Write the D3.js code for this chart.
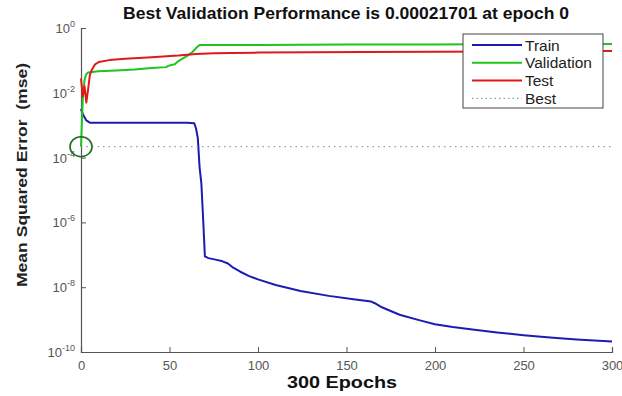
<!DOCTYPE html>
<html>
<head>
<meta charset="utf-8">
<script src="https://cdn.jsdelivr.net/npm/d3@7"></script>
<style>
  body { margin: 0; background: #fff; }
  svg { font-family: "Liberation Sans", Arial, sans-serif; }
</style>
</head>
<body>
<svg id="rootSVG" width="622" height="396"></svg>
<script>
// values (mse per epoch)
const trainEpochs = [0, 1, 3, 5, 20, 40, 60, 64, 65, 66, 67, 68, 69, 70, 72, 76, 80, 83, 86, 90, 95, 100, 110, 124, 140, 155, 164, 166, 170, 180, 192, 200, 210, 220, 235, 250, 265, 280, 300];
const trainMse = [3.2e-3, 2.2e-3, 1.4e-3, 1.2e-3, 1.2e-3, 1.2e-3, 1.2e-3, 1.15e-3, 7.9e-4, 4.0e-4, 5.0e-5, 1.6e-5, 1.3e-6, 8.9e-8, 7.9e-8, 7.1e-8, 6.3e-8, 5.4e-8, 4.0e-8, 3.0e-8, 2.2e-8, 1.74e-8, 1.17e-8, 7.6e-9, 5.4e-9, 4.2e-9, 3.6e-9, 3.2e-9, 2.4e-9, 1.41e-9, 9.3e-10, 7.2e-10, 5.9e-10, 5.0e-10, 4.0e-10, 3.3e-10, 2.8e-10, 2.45e-10, 2.1e-10];

const valEpochs = [0, 1, 2, 3, 4, 6, 10, 20, 30, 40, 48, 50, 53, 55, 60, 63, 65, 67, 70, 100, 150, 200, 250, 300];
const valMse = [2.17e-4, 6.3e-3, 2.5e-2, 3.8e-2, 4.2e-2, 4.4e-2, 4.6e-2, 4.9e-2, 5.2e-2, 5.8e-2, 6.2e-2, 7.0e-2, 7.6e-2, 9.5e-2, 0.138, 0.182, 0.24, 0.30, 0.30, 0.30, 0.31, 0.31, 0.32, 0.32];

const testEpochs = [0, 1, 2, 3, 4, 5, 6, 8, 10, 16, 25, 40, 55, 65, 75, 85, 100, 130, 160, 200, 250, 300];
const testMse = [2.8e-2, 7.9e-3, 1.6e-2, 5.0e-3, 1.26e-2, 3.5e-2, 5.0e-2, 7.6e-2, 8.9e-2, 0.102, 0.112, 0.126, 0.141, 0.158, 0.166, 0.17, 0.174, 0.178, 0.182, 0.186, 0.19, 0.194];

const bestEpoch = 0;
const bestMse = 0.00021701;

const xTicks = [0, 50, 100, 150, 200, 250, 300];
const yExponents = [0, -2, -4, -6, -8, -10];

const legendNames = ["Train", "Validation", "Test", "Best"];
const legendColors = ["#1c1cb4", "#1fc41f", "#e01818", "#7aa8b0"];

const svg = d3.select("#rootSVG");

const x = d3.scaleLinear().domain([0, 300]).range([81, 612]);
const y = d3.scaleLog().domain([1e-10, 1]).range([352, 28]);

// axes (box off: only left and bottom)
const xAxis = svg.append("g").attr("transform", `translate(0,${y(1e-10)})`)
  .call(d3.axisBottom(x).tickValues(xTicks).tickSize(-5).tickPadding(9).tickFormat(d3.format("d")));
const yAxis = svg.append("g").attr("transform", `translate(${x(0)},0)`)
  .call(d3.axisLeft(y).tickValues(yExponents.map(e => Math.pow(10, e))).tickSize(-5).tickFormat(""));

[xAxis, yAxis].forEach(g => {
  g.select(".domain").attr("stroke", "#555").attr("stroke-width", 1.2);
  g.selectAll(".tick line").attr("stroke", "#555");
});
xAxis.selectAll(".tick text").attr("font-size", 13).attr("fill", "#555")
  .attr("font-family", "Liberation Sans, Arial, sans-serif");

// y tick labels as 10 with superscript exponent
const yLab = svg.append("g");
yExponents.forEach(e => {
  const t = yLab.append("text")
    .attr("x", 75).attr("y", y(Math.pow(10, e)) + 5)
    .attr("text-anchor", "end").attr("fill", "#555").attr("font-size", 13);
  t.append("tspan").text("10");
  t.append("tspan").attr("dy", -6).attr("font-size", 9).text(String(e));
});

// series
const line = d3.line().x(d => x(d[0])).y(d => y(d[1]));
const series = [
  {ep: trainEpochs, v: trainMse, c: legendColors[0]},
  {ep: valEpochs, v: valMse, c: legendColors[1]},
  {ep: testEpochs, v: testMse, c: legendColors[2]}
];
series.forEach(s => {
  svg.append("path")
    .datum(d3.zip(s.ep, s.v))
    .attr("d", line)
    .attr("fill", "none")
    .attr("stroke", s.c)
    .attr("stroke-width", 2)
    .attr("stroke-linejoin", "round");
});

// best line
svg.append("path")
  .datum([[0, bestMse], [300, bestMse]])
  .attr("d", line)
  .attr("fill", "none")
  .attr("stroke", legendColors[3])
  .attr("stroke-width", 1.2)
  .attr("stroke-dasharray", "1.5,4");

svg.append("ellipse")
  .attr("cx", x(bestEpoch)).attr("cy", y(bestMse))
  .attr("rx", 11).attr("ry", 10)
  .attr("fill", "none").attr("stroke", "#1f6e22").attr("stroke-width", 1.6);

// title and labels (stretched like the source image)
svg.append("text").attr("x", 346).attr("y", 19).attr("text-anchor", "middle")
  .attr("font-size", 16.5).attr("font-weight", "bold").attr("fill", "#111")
  .attr("textLength", 446).attr("lengthAdjust", "spacingAndGlyphs")
  .text("Best Validation Performance is 0.00021701 at epoch 0");
svg.append("text").attr("x", 342).attr("y", 388).attr("text-anchor", "middle")
  .attr("font-size", 16.5).attr("font-weight", "bold").attr("fill", "#111")
  .attr("textLength", 110).attr("lengthAdjust", "spacingAndGlyphs")
  .text("300 Epochs");
svg.append("text").attr("transform", "translate(27,175) rotate(-90)")
  .attr("text-anchor", "middle").attr("font-size", 15).attr("font-weight", "bold").attr("fill", "#222")
  .attr("textLength", 224).attr("lengthAdjust", "spacingAndGlyphs")
  .attr("xml:space", "preserve")
  .text("Mean Squared Error  (mse)");

// legend
const leg = svg.append("g").attr("transform", "translate(463,34)");
leg.append("rect").attr("width", 140).attr("height", 74)
  .attr("fill", "#fff").attr("stroke", "#444").attr("stroke-width", 1);
legendNames.forEach((n, i) => {
  const ly = 11 + i * 17.8;
  leg.append("line").attr("x1", 9).attr("x2", 59).attr("y1", ly).attr("y2", ly)
    .attr("stroke", legendColors[i])
    .attr("stroke-width", i === 3 ? 1.2 : 2)
    .attr("stroke-dasharray", i === 3 ? "1.5,3" : null);
  leg.append("text").attr("x", 62).attr("y", ly + 5.5)
    .attr("font-size", 15.5).attr("fill", "#222").text(n);
});
</script>
</body>
</html>
